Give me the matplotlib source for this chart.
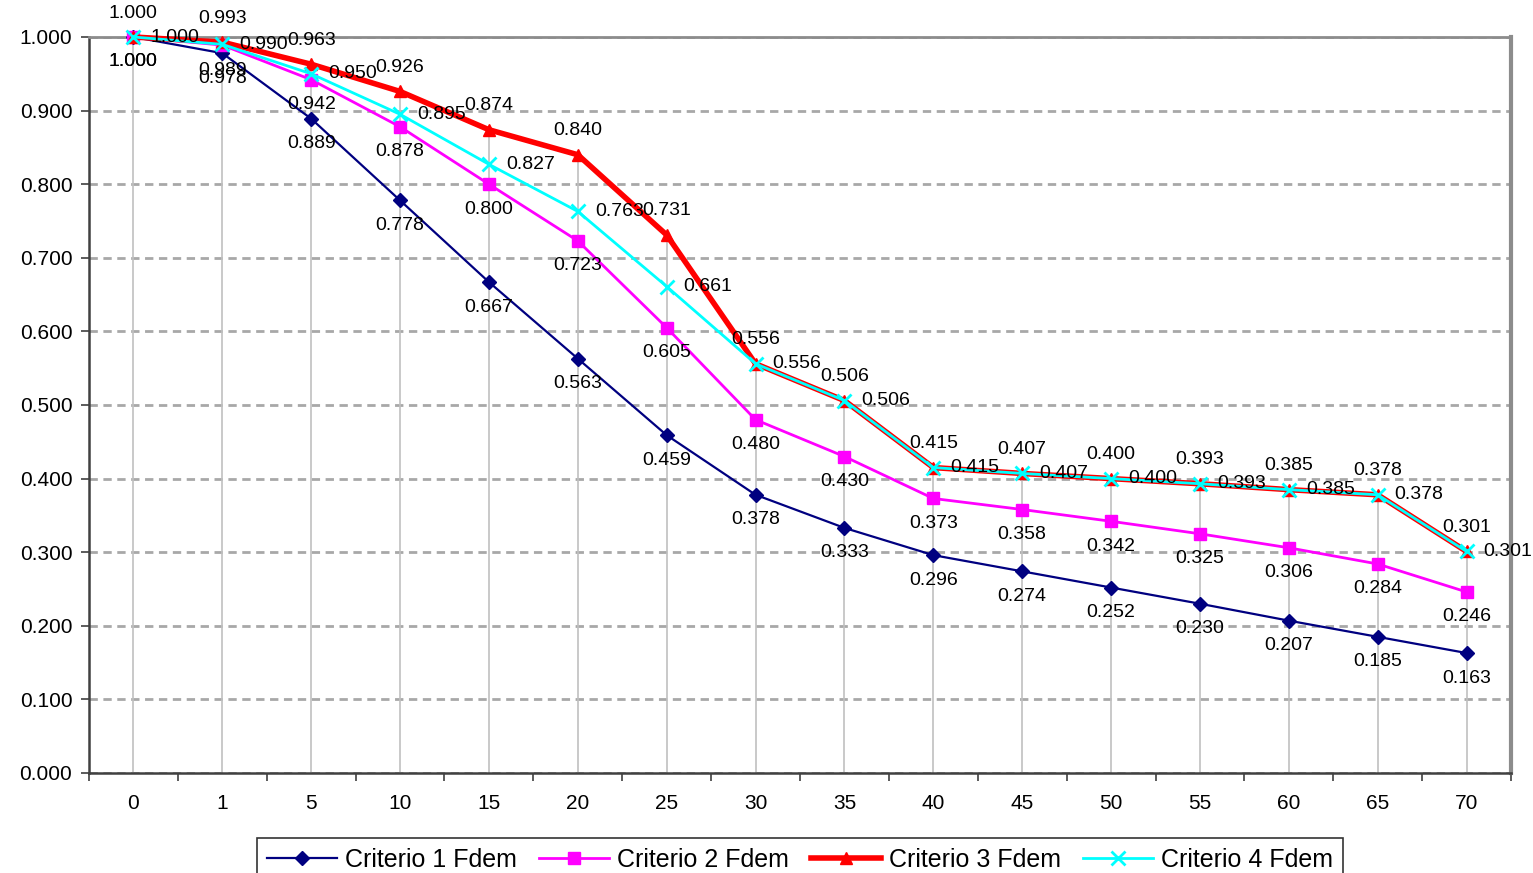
import numpy as np
import matplotlib
matplotlib.use("Agg")
import matplotlib.pyplot as plt
from matplotlib.ticker import FormatStrFormatter, FixedLocator

plt.rcParams['font.family'] = ['Liberation Sans', 'DejaVu Sans']

categorias = ["0", "1", "5", "10", "15", "20", "25", "30", "35", "40",
              "45", "50", "55", "60", "65", "70"]

criterio1 = [1.000, 0.978, 0.889, 0.778, 0.667, 0.563, 0.459, 0.378,
             0.333, 0.296, 0.274, 0.252, 0.230, 0.207, 0.185, 0.163]
criterio2 = [1.000, 0.989, 0.942, 0.878, 0.800, 0.723, 0.605, 0.480,
             0.430, 0.373, 0.358, 0.342, 0.325, 0.306, 0.284, 0.246]
criterio3 = [1.000, 0.993, 0.963, 0.926, 0.874, 0.840, 0.731, 0.556,
             0.506, 0.415, 0.407, 0.400, 0.393, 0.385, 0.378, 0.301]
criterio4 = [1.000, 0.990, 0.950, 0.895, 0.827, 0.763, 0.661, 0.556,
             0.506, 0.415, 0.407, 0.400, 0.393, 0.385, 0.378, 0.301]

x = np.arange(len(categorias))

fig = plt.figure(figsize=(15.33, 8.73), dpi=100)
ax = fig.add_axes([89 / 1533, 1 - 773 / 873, (1511 - 89) / 1533, (773 - 37) / 873])

# lineas de caida desde el valor maximo hasta el eje
tope = np.max([criterio1, criterio2, criterio3, criterio4], axis=0)
ax.vlines(x, 0, tope, color="#c0c0c0", lw=1.2, zorder=1)

ax.yaxis.grid(True, ls=(0, (3, 2)), color="#a8a8a8", lw=2, zorder=0)
ax.set_axisbelow(True)

series = [
    ("Criterio 1 Fdem", criterio1, "#000080", "D", 1.6, 7, (0, -25), "center"),
    ("Criterio 2 Fdem", criterio2, "#ff00ff", "s", 2.0, 9, (0, -25), "center"),
    ("Criterio 3 Fdem", criterio3, "#ff0000", "^", 4.0, 9, (0, 24), "center"),
    ("Criterio 4 Fdem", criterio4, "#00ffff", "x", 2.0, 10, (17, 0), "left"),
]

for i, (nombre, vals, col, mk, lw, ms, off, ha) in enumerate(series):
    ax.plot(x, vals, color=col, lw=lw, marker=mk, ms=ms, mew=2 if mk == "x" else 1,
            mec=col, mfc=col, label=nombre, zorder=3 + i, clip_on=False)
    for xi, v in zip(x, vals):
        ax.annotate(f"{v:.3f}", (xi, v), xytext=off, textcoords="offset pixels",
                    ha=ha, va="center", fontsize=14, color="black", zorder=10,
                    annotation_clip=False)

ax.set_xlim(-0.5, len(categorias) - 0.5)
ax.set_ylim(0, 1.0)
ax.set_yticks(np.arange(0, 1.01, 0.1))
ax.yaxis.set_major_formatter(FormatStrFormatter("%.3f"))
ax.set_xticks(x)
ax.set_xticklabels(categorias)
ax.xaxis.set_major_locator(FixedLocator(x))
ax.xaxis.set_minor_locator(FixedLocator(np.arange(-0.5, len(categorias), 1)))
ax.tick_params(axis="x", which="major", length=0, pad=15, labelsize=15)
ax.tick_params(axis="x", which="minor", length=6, width=1.2, direction="out", color="#404040")
ax.tick_params(axis="y", length=6, width=1.2, direction="out", color="#404040", labelsize=15, pad=6)

for lado in ["left", "bottom"]:
    ax.spines[lado].set_color("#404040")
    ax.spines[lado].set_linewidth(1.8)
ax.spines["right"].set_color("#8c8c8c")
ax.spines["right"].set_linewidth(3)
ax.spines["top"].set_color("#8c8c8c")
ax.spines["top"].set_linewidth(2)

leg = fig.legend(loc="upper center", bbox_to_anchor=(800 / 1533, 1 - 838 / 873),
                 ncol=4, fontsize=18, frameon=True, fancybox=False, handlelength=2.8,
                 columnspacing=0.9, handletextpad=0.3, borderpad=0.4, borderaxespad=0)
leg.get_frame().set_edgecolor("black")
leg.get_frame().set_linewidth(1.2)

fig.savefig("out.png", dpi=100)
